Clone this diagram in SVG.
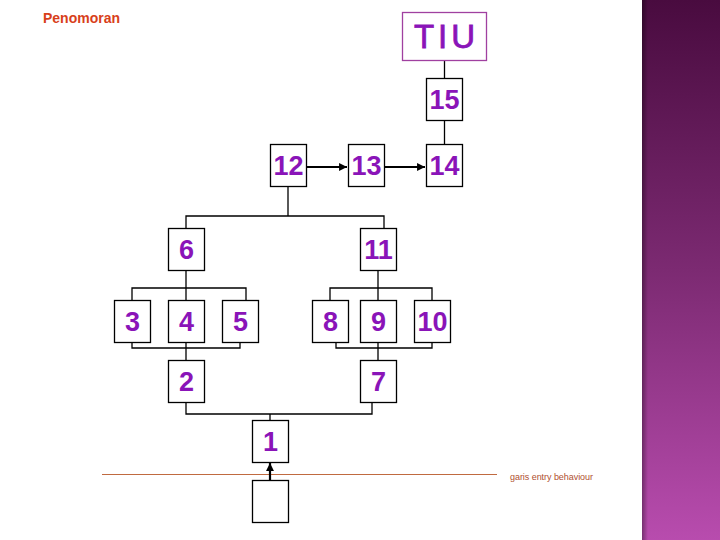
<svg xmlns="http://www.w3.org/2000/svg" width="720" height="540" viewBox="0 0 720 540">
<defs>
<linearGradient id="pg" x1="0" y1="0" x2="0" y2="1">
<stop offset="0" stop-color="#490b3f"/>
<stop offset="0.5" stop-color="#7c2a72"/>
<stop offset="1" stop-color="#b84cae"/>
</linearGradient>
<linearGradient id="sh" x1="0" y1="0" x2="1" y2="0">
<stop offset="0" stop-color="#000" stop-opacity="0.35"/>
<stop offset="1" stop-color="#000" stop-opacity="0"/>
</linearGradient>
<marker id="ah" viewBox="0 0 10 10" refX="10" refY="5" markerWidth="3.6" markerHeight="3.6" orient="auto" markerUnits="strokeWidth">
<path d="M0,0 L10,5 L0,10 z" fill="#000"/>
</marker>
<style>
.b{fill:#fff;stroke:#000;stroke-width:1.3}
.n{font-family:"Liberation Sans",Arial,sans-serif;font-weight:bold;font-size:27px;fill:#8a14b8;text-anchor:middle}
.c{fill:none;stroke:#000;stroke-width:1.3}
.a{fill:none;stroke:#000;stroke-width:2.2;marker-end:url(#ah)}
</style>
</defs>
<rect width="720" height="540" fill="#fff"/>
<rect x="642" y="0" width="78" height="540" fill="url(#pg)"/>
<rect x="642" y="0" width="6" height="540" fill="url(#sh)"/>
<text x="43" y="23" font-family="Liberation Sans,Arial,sans-serif" font-weight="bold" font-size="14" fill="#d8401a">Penomoran</text>
<line x1="102" y1="474.5" x2="497" y2="474.5" stroke="#c06a40" stroke-width="1.2"/>
<text x="510" y="480" font-family="Liberation Sans,Arial,sans-serif" font-size="9" fill="#b05030" textLength="83" lengthAdjust="spacing">garis entry behaviour</text>
<g id="connectors">
<path class="c" d="M444.5,61 V78 M444.5,120 V144"/>
<line class="a" x1="306" y1="167" x2="347" y2="167"/>
<line class="a" x1="384" y1="167" x2="425" y2="167"/>
<path class="c" d="M288,186 V216 M186,228 V216 H384 V228"/>
<path class="c" d="M186,270 V300 M132,300 V288 H246 V300"/>
<path class="c" d="M378,270 V300 M330,300 V288 H432 V300"/>
<path class="c" d="M132,342 V348 H240 V342 M186,342 V360"/>
<path class="c" d="M336,342 V348 H432 V342 M378,342 V360"/>
<path class="c" d="M186,402 V414 H372 V402 M270,414 V420"/>
<line class="a" x1="270" y1="480" x2="270" y2="463"/>
</g>
<g id="TIU"><rect x="402.5" y="12.5" width="84" height="48" fill="#fff" stroke="#a040a0" stroke-width="1.3"/><text x="446.5" y="48" font-family="Liberation Sans,Arial,sans-serif" font-size="33" fill="#8a14b8" stroke="#8a14b8" stroke-width="0.8" text-anchor="middle" letter-spacing="4">TIU</text></g>
<g id="n15"><rect class="b" x="426.5" y="78.5" width="36" height="42"/><text class="n" x="444.5" y="109">15</text></g>
<g id="n12"><rect class="b" x="270.5" y="144.5" width="36" height="42"/><text class="n" x="288.5" y="175">12</text></g>
<g id="n13"><rect class="b" x="348.5" y="144.5" width="36" height="42"/><text class="n" x="366.5" y="175">13</text></g>
<g id="n14"><rect class="b" x="426.5" y="144.5" width="36" height="42"/><text class="n" x="444.5" y="175">14</text></g>
<g id="n6"><rect class="b" x="168.5" y="228.5" width="36" height="42"/><text class="n" x="186.5" y="259">6</text></g>
<g id="n11"><rect class="b" x="360.5" y="228.5" width="36" height="42"/><text class="n" x="378.5" y="259">11</text></g>
<g id="n3"><rect class="b" x="114.5" y="300.5" width="36" height="42"/><text class="n" x="132.5" y="331">3</text></g>
<g id="n4"><rect class="b" x="168.5" y="300.5" width="36" height="42"/><text class="n" x="186.5" y="331">4</text></g>
<g id="n5"><rect class="b" x="222.5" y="300.5" width="36" height="42"/><text class="n" x="240.5" y="331">5</text></g>
<g id="n8"><rect class="b" x="312.5" y="300.5" width="36" height="42"/><text class="n" x="330.5" y="331">8</text></g>
<g id="n9"><rect class="b" x="360.5" y="300.5" width="36" height="42"/><text class="n" x="378.5" y="331">9</text></g>
<g id="n10"><rect class="b" x="414.5" y="300.5" width="36" height="42"/><text class="n" x="432.5" y="331">10</text></g>
<g id="n2"><rect class="b" x="168.5" y="360.5" width="36" height="42"/><text class="n" x="186.5" y="391">2</text></g>
<g id="n7"><rect class="b" x="360.5" y="360.5" width="36" height="42"/><text class="n" x="378.5" y="391">7</text></g>
<g id="n1"><rect class="b" x="252.5" y="420.5" width="36" height="42"/><text class="n" x="270.5" y="451">1</text></g>
<g id="n0"><rect class="b" x="252.5" y="480.5" width="36" height="42"/></g>
</svg>
